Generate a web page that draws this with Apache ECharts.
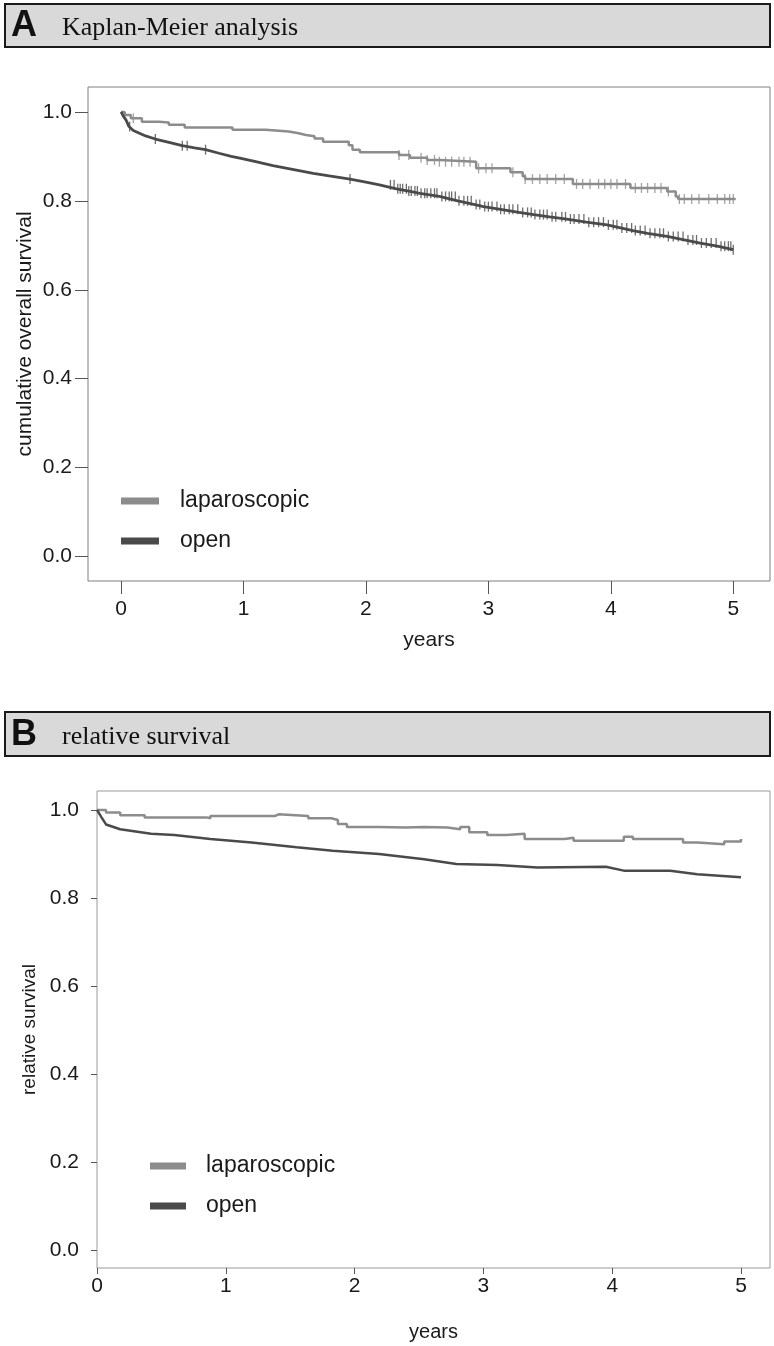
<!DOCTYPE html>
<html>
<head>
<meta charset="utf-8">
<script src="https://cdn.jsdelivr.net/npm/echarts@6/dist/echarts.min.js"></script>
<style>
html,body{margin:0;padding:0;background:#fff;}
#c{width:774px;height:1346px;}
</style>
</head>
<body>
<div id="c"></div>
<script>
// ---------- data ----------
var xTicks = [0, 1, 2, 3, 4, 5];
var yTicks = [0, 0.2, 0.4, 0.6, 0.8, 1.0];

// Panel A – Kaplan-Meier (time, survival)
var kmLapT = [0, 0.03, 0.08, 0.17, 0.31, 0.39, 0.52, 0.91, 1.18, 1.37, 1.45, 1.51, 1.58, 1.65, 1.86, 1.89, 1.95, 2.27, 2.36, 2.5, 2.6, 2.9, 3.18, 3.28, 3.3, 3.69, 4.16, 4.46, 4.53, 4.55, 5.02];
var kmLapV = [1.0, 0.993, 0.986, 0.978, 0.976, 0.971, 0.965, 0.96, 0.956, 0.952, 0.948, 0.945, 0.94, 0.933, 0.925, 0.915, 0.909, 0.903, 0.897, 0.892, 0.888, 0.873, 0.864, 0.855, 0.849, 0.838, 0.829, 0.821, 0.81, 0.804, 0.804];
var kmOpenT = [0, 0.02, 0.04, 0.065, 0.1, 0.15, 0.2, 0.28, 0.4, 0.5, 0.6, 0.69, 0.8, 0.9, 0.97, 1.1, 1.24, 1.4, 1.57, 1.7, 1.87, 2.0, 2.11, 2.25, 2.35, 2.44, 2.6, 2.75, 2.88, 2.96, 3.1, 3.25, 3.37, 3.5, 3.64, 3.8, 3.97, 4.08, 4.18, 4.3, 4.46, 4.6, 4.73, 4.87, 5.0];
var kmOpenV = [1.0, 0.99, 0.982, 0.967, 0.958, 0.952, 0.946, 0.939, 0.931, 0.924, 0.919, 0.915, 0.907, 0.9, 0.896, 0.888, 0.879, 0.871, 0.862, 0.856, 0.849, 0.842, 0.836, 0.827, 0.822, 0.817, 0.81, 0.8, 0.792, 0.787, 0.781, 0.774, 0.769, 0.764, 0.759, 0.752, 0.746, 0.739, 0.733, 0.727, 0.72, 0.712, 0.705, 0.698, 0.69];
// censoring times
var censLap = [0.1, 2.27, 2.35, 2.45, 2.5, 2.56, 2.6, 2.65, 2.7, 2.76, 2.8, 2.85, 2.92, 2.98, 3.03, 3.2, 3.3, 3.36, 3.42, 3.48, 3.55, 3.62, 3.72, 3.77, 3.83, 3.9, 3.95, 4.0, 4.05, 4.12, 4.2, 4.25, 4.3, 4.36, 4.41, 4.47, 4.56, 4.6, 4.66, 4.72, 4.8, 4.87, 4.93, 4.97, 5.0];
var censOpen = [0.07, 0.28, 0.5, 0.54, 0.69, 1.87, 2.2, 2.23, 2.26, 2.28, 2.3, 2.33, 2.35, 2.37, 2.4, 2.42, 2.45, 2.48, 2.5, 2.53, 2.56, 2.58, 2.62, 2.65, 2.68, 2.7, 2.73, 2.76, 2.8, 2.83, 2.86, 2.9, 2.93, 2.97, 3.0, 3.03, 3.07, 3.1, 3.13, 3.17, 3.2, 3.24, 3.28, 3.32, 3.35, 3.38, 3.42, 3.45, 3.48, 3.52, 3.55, 3.6, 3.63, 3.67, 3.7, 3.74, 3.78, 3.82, 3.86, 3.9, 3.94, 3.98, 4.02, 4.05, 4.09, 4.13, 4.17, 4.2, 4.24, 4.28, 4.32, 4.36, 4.4, 4.43, 4.47, 4.51, 4.55, 4.59, 4.63, 4.67, 4.7, 4.74, 4.78, 4.82, 4.86, 4.9, 4.93, 4.96, 4.98, 5.0];

// Panel B – relative survival
var rsLapT = [0, 0.07, 0.18, 0.37, 0.85, 0.88, 1.38, 1.41, 1.64, 1.82, 1.87, 1.94, 2.19, 2.4, 2.54, 2.72, 2.82, 2.89, 3.03, 3.18, 3.32, 3.63, 3.7, 4.09, 4.16, 4.52, 4.55, 4.66, 4.87, 5.0];
var rsLapV = [1.0, 0.994, 0.988, 0.983, 0.981, 0.986, 0.99, 0.986, 0.981, 0.977, 0.968, 0.961, 0.96, 0.961, 0.96, 0.956, 0.961, 0.949, 0.943, 0.946, 0.934, 0.937, 0.93, 0.939, 0.934, 0.934, 0.926, 0.922, 0.928, 0.934];
var rsOpenT = [0, 0.035, 0.07, 0.18, 0.42, 0.6, 0.88, 1.2, 1.55, 1.83, 2.19, 2.54, 2.79, 3.11, 3.42, 3.95, 4.09, 4.45, 4.66, 5.0];
var rsOpenV = [1.0, 0.983, 0.967, 0.956, 0.946, 0.943, 0.934, 0.926, 0.915, 0.907, 0.9, 0.888, 0.877, 0.875, 0.869, 0.871, 0.862, 0.862, 0.854, 0.847];

var seriesNames = ['laparoscopic', 'open'];

// ---------- helpers ----------
function pairs(t, v) { return t.map(function (x, i) { return [x, v[i]]; }); }
function stepAt(t, v, x) { var r = v[0]; for (var i = 0; i < t.length; i++) { if (t[i] <= x) r = v[i]; } return r; }
function marks(cens, t, v) { return cens.map(function (x) { return [x, stepAt(t, v, x)]; }); }

var LAP = '#8c8c8c', OPEN = '#4a4a4a';
var TXT = '#1a1a1a';
var SANS = "'Liberation Sans',Arial,sans-serif";
var SERIF = '"Liberation Serif","Times New Roman",serif';

var chart = echarts.init(document.getElementById('c'), null, { renderer: 'canvas' });

function fmt1(v) { return Number(v).toFixed(1); }

var option = {
  animation: false,
  backgroundColor: '#ffffff',
  graphic: [
    { type: 'rect', shape: { x: 5, y: 4, width: 765, height: 43 }, style: { fill: '#d9d9d9', stroke: '#1a1a1a', lineWidth: 2 } },
    { type: 'text', x: 11, y: 26, style: { text: 'A', font: 'bold 36px ' + SANS, fill: '#111', textVerticalAlign: 'middle' } },
    { type: 'text', x: 62, y: 28, style: { text: 'Kaplan-Meier analysis', font: '26px ' + SERIF, fill: '#111', textVerticalAlign: 'middle' } },
    { type: 'rect', shape: { x: 5, y: 712, width: 765, height: 44 }, style: { fill: '#d9d9d9', stroke: '#1a1a1a', lineWidth: 2 } },
    { type: 'text', x: 11, y: 735, style: { text: 'B', font: 'bold 36px ' + SANS, fill: '#111', textVerticalAlign: 'middle' } },
    { type: 'text', x: 62, y: 737, style: { text: 'relative survival', font: '26px ' + SERIF, fill: '#111', textVerticalAlign: 'middle' } }
  ],
  grid: [
    { left: 88, top: 87, width: 682, height: 494, show: true, borderColor: '#7f7f7f', borderWidth: 1, backgroundColor: 'transparent' },
    { left: 97, top: 791, width: 673, height: 477, show: true, borderColor: '#9a9a9a', borderWidth: 1, backgroundColor: 'transparent' }
  ],
  xAxis: [
    { type: 'value', gridIndex: 0, min: -0.27, max: 5.3,
      name: 'years', nameLocation: 'middle', nameGap: 49,
      nameTextStyle: { fontFamily: SANS, fontSize: 21, color: TXT },
      axisLine: { show: false, onZero: false },
      axisTick: { show: true, length: 13, lineStyle: { color: '#555' }, customValues: xTicks },
      axisLabel: { customValues: xTicks, margin: 18, fontFamily: SANS, fontSize: 21, color: TXT },
      splitLine: { show: false } },
    { type: 'value', gridIndex: 1, min: 0, max: 5.225,
      name: 'years', nameLocation: 'middle', nameGap: 54,
      nameTextStyle: { fontFamily: SANS, fontSize: 20, color: TXT },
      axisLine: { show: false, onZero: false },
      axisTick: { show: true, length: 6, lineStyle: { color: '#555' }, customValues: xTicks },
      axisLabel: { customValues: xTicks, margin: 8, fontFamily: SANS, fontSize: 21, color: TXT },
      splitLine: { show: false } }
  ],
  yAxis: [
    { type: 'value', gridIndex: 0, min: -0.055, max: 1.056,
      name: 'cumulative overall survival', nameLocation: 'middle', nameGap: 52, nameRotate: 90, nameMoveOverlap: false,
      nameTextStyle: { fontFamily: SANS, fontSize: 21, color: TXT },
      axisLine: { show: false, onZero: false },
      axisTick: { show: true, length: 13, lineStyle: { color: '#555' }, customValues: yTicks },
      axisLabel: { customValues: yTicks, formatter: fmt1, margin: 16, fontFamily: SANS, fontSize: 21, color: TXT },
      splitLine: { show: false } },
    { type: 'value', gridIndex: 1, min: -0.041, max: 1.043,
      name: 'relative survival', nameLocation: 'middle', nameGap: 58, nameRotate: 90, nameMoveOverlap: false,
      nameTextStyle: { fontFamily: SANS, fontSize: 19, color: TXT },
      axisLine: { show: false, onZero: false },
      axisTick: { show: true, length: 6, lineStyle: { color: '#555' }, customValues: yTicks },
      axisLabel: { customValues: yTicks, formatter: fmt1, margin: 18, fontFamily: SANS, fontSize: 21, color: TXT },
      splitLine: { show: false } }
  ],
  legend: [
    { data: seriesNames, orient: 'vertical', left: 116, top: 484, itemWidth: 38, itemHeight: 7, itemGap: 16,
      icon: 'rect', selectedMode: false,
      textStyle: { fontFamily: SANS, fontSize: 23, color: TXT, lineHeight: 24, padding: [0, 0, 0, 16] } },
    { data: seriesNames, orient: 'vertical', left: 145, top: 1149, itemWidth: 36, itemHeight: 7, itemGap: 16,
      icon: 'rect', selectedMode: false,
      textStyle: { fontFamily: SANS, fontSize: 23, color: TXT, lineHeight: 24, padding: [0, 0, 0, 15] } }
  ],
  series: [
    { name: seriesNames[0], type: 'line', xAxisIndex: 0, yAxisIndex: 0, step: 'end', showSymbol: false, symbol: 'none',
      data: pairs(kmLapT, kmLapV), lineStyle: { color: LAP, width: 2.5 }, itemStyle: { color: LAP }, z: 3 },
    { name: seriesNames[1], type: 'line', xAxisIndex: 0, yAxisIndex: 0, showSymbol: false, symbol: 'none',
      data: pairs(kmOpenT, kmOpenV), lineStyle: { color: OPEN, width: 2.8 }, itemStyle: { color: OPEN }, z: 3 },
    { name: 'cens-lap', type: 'scatter', xAxisIndex: 0, yAxisIndex: 0, symbol: 'rect', symbolSize: [1.3, 10],
      data: marks(censLap, kmLapT, kmLapV), itemStyle: { color: LAP }, silent: true, z: 4 },
    { name: 'cens-open', type: 'scatter', xAxisIndex: 0, yAxisIndex: 0, symbol: 'rect', symbolSize: [1.3, 10],
      data: marks(censOpen, kmOpenT, kmOpenV), itemStyle: { color: OPEN }, silent: true, z: 4 },
    { name: seriesNames[0], type: 'line', xAxisIndex: 1, yAxisIndex: 1, step: 'end', showSymbol: false, symbol: 'none',
      data: pairs(rsLapT, rsLapV), lineStyle: { color: LAP, width: 2.5 }, itemStyle: { color: LAP }, z: 3 },
    { name: seriesNames[1], type: 'line', xAxisIndex: 1, yAxisIndex: 1, showSymbol: false, symbol: 'none',
      data: pairs(rsOpenT, rsOpenV), lineStyle: { color: OPEN, width: 2.5 }, itemStyle: { color: OPEN }, z: 3 }
  ]
};
chart.setOption(option);
</script>
</body>
</html>
